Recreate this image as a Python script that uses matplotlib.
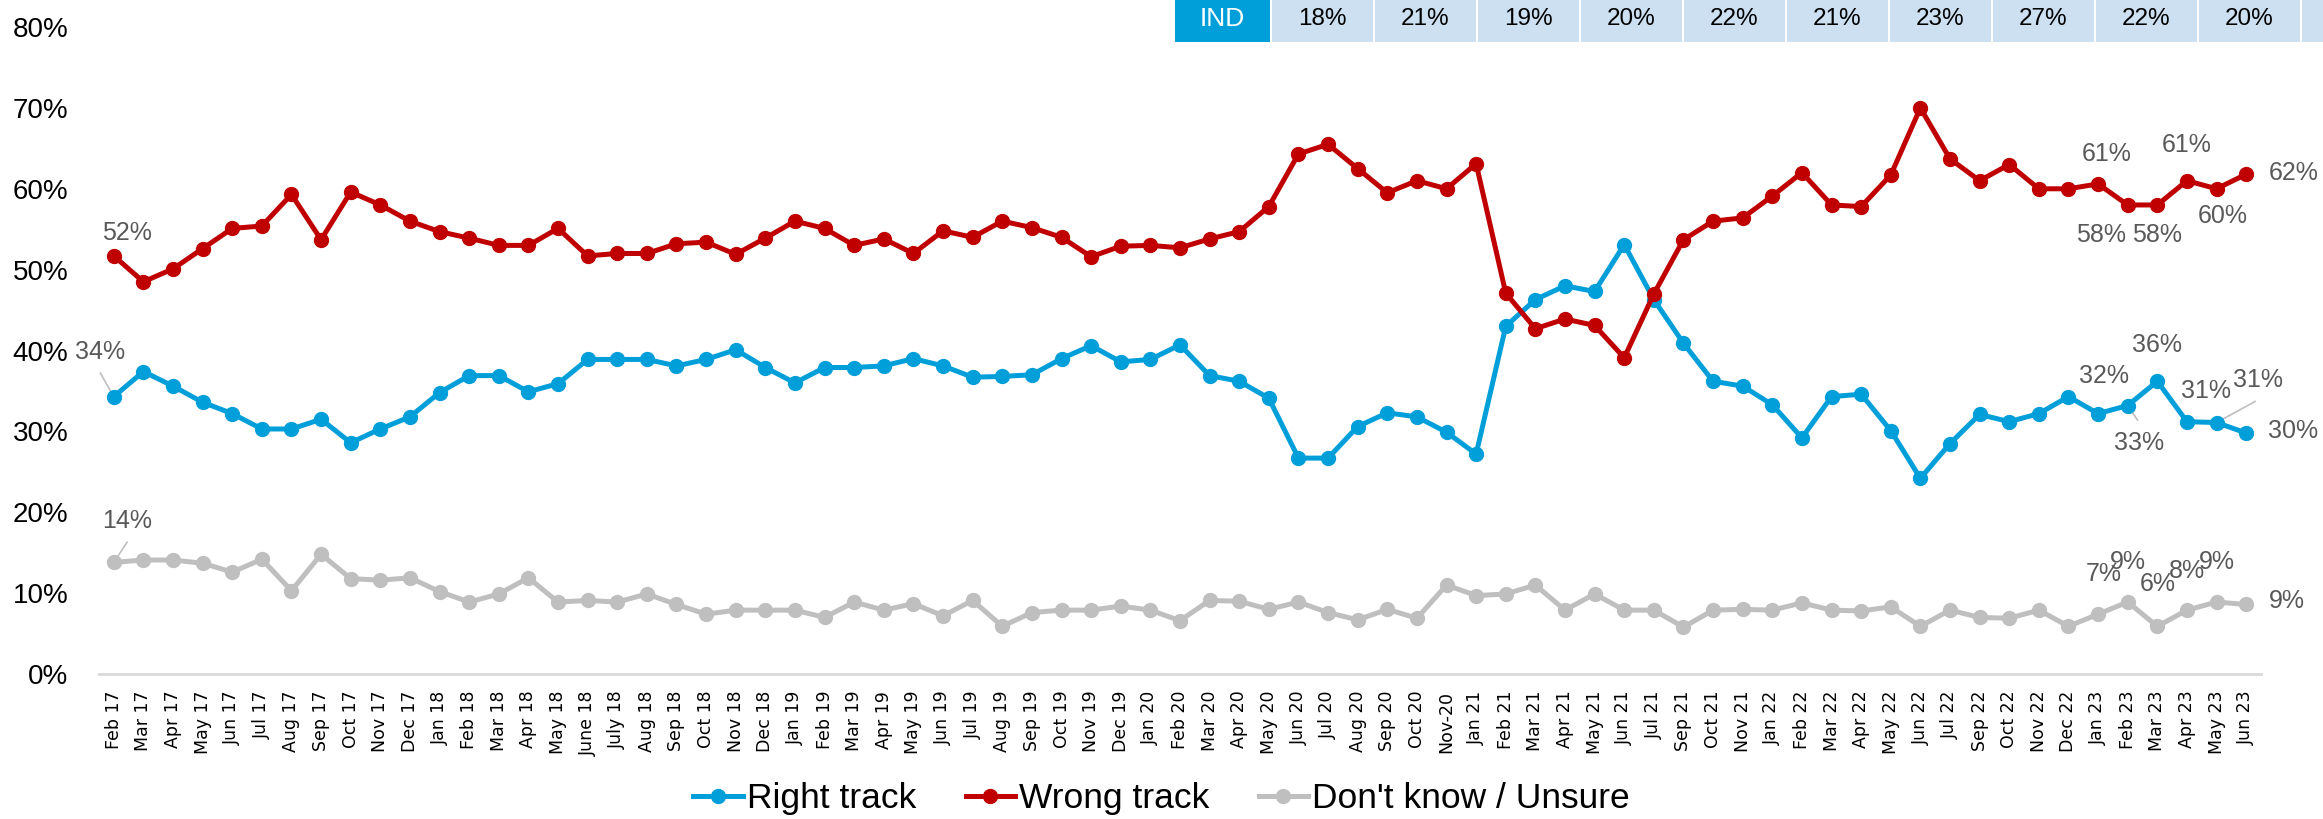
import matplotlib
matplotlib.use('Agg')
from matplotlib import pyplot as plt
from matplotlib.lines import Line2D
from matplotlib.patches import Rectangle

# plain sans for the excel-ish look, dejavu for the month labels
plt.rcParams['font.family'] = ['Liberation Sans', 'DejaVu Sans']

# data (percent)
months = ['Feb 17', 'Mar 17', 'Apr 17', 'May 17', 'Jun 17', 'Jul 17', 'Aug 17', 'Sep 17', 'Oct 17', 'Nov 17', 'Dec 17',
          'Jan 18', 'Feb 18', 'Mar 18', 'Apr 18', 'May 18', 'June 18', 'July 18', 'Aug 18', 'Sep 18', 'Oct 18', 'Nov 18', 'Dec 18',
          'Jan 19', 'Feb 19', 'Mar 19', 'Apr 19', 'May 19', 'Jun 19', 'Jul 19', 'Aug 19', 'Sep 19', 'Oct 19', 'Nov 19', 'Dec 19',
          'Jan 20', 'Feb 20', 'Mar 20', 'Apr 20', 'May 20', 'Jun 20', 'Jul 20', 'Aug 20', 'Sep 20', 'Oct 20', 'Nov-20',
          'Jan 21', 'Feb 21', 'Mar 21', 'Apr 21', 'May 21', 'Jun 21', 'Jul 21', 'Sep 21', 'Oct 21', 'Nov 21',
          'Jan 22', 'Feb 22', 'Mar 22', 'Apr 22', 'May 22', 'Jun 22', 'Jul 22', 'Sep 22', 'Oct 22', 'Nov 22', 'Dec 22',
          'Jan 23', 'Feb 23', 'Mar 23', 'Apr 23', 'May 23', 'Jun 23']

right_track = [34.3, 37.4, 35.6, 33.6, 32.2, 30.3, 30.3, 31.5, 28.6, 30.3, 31.8,
               34.8, 36.9, 36.9, 34.9, 35.9, 38.9, 38.9, 38.9, 38.1, 38.9, 40.1, 37.9,
               36.0, 37.9, 37.9, 38.1, 39.0, 38.1, 36.7, 36.8, 37.0, 39.0, 40.6, 38.6,
               38.9, 40.7, 36.9, 36.2, 34.1, 26.7, 26.7, 30.6, 32.3, 31.8, 29.9,
               27.2, 43.0, 46.3, 48.0, 47.3, 53.1, 46.3, 40.9, 36.2, 35.6,
               33.3, 29.2, 34.3, 34.6, 30.1, 24.2, 28.5, 32.1, 31.2, 32.2, 34.3,
               32.2, 33.2, 36.2, 31.2, 31.1, 29.8]

wrong_track = [51.7, 48.5, 50.1, 52.6, 55.1, 55.4, 59.3, 53.7, 59.6, 58.0, 56.0,
               54.7, 53.9, 53.0, 53.0, 55.1, 51.7, 52.0, 52.0, 53.2, 53.4, 51.9, 53.9,
               56.0, 55.1, 53.0, 53.8, 52.0, 54.8, 54.0, 56.0, 55.2, 54.0, 51.6, 52.9,
               53.0, 52.7, 53.8, 54.7, 57.8, 64.3, 65.5, 62.5, 59.5, 61.0, 60.0,
               63.1, 47.1, 42.7, 43.9, 43.1, 39.1, 47.0, 53.7, 56.0, 56.4,
               59.1, 62.0, 58.0, 57.8, 61.7, 70.0, 63.7, 61.0, 63.0, 60.0, 60.0,
               60.6, 58.0, 58.0, 61.0, 60.0, 61.8]

unsure = [13.8, 14.1, 14.1, 13.7, 12.6, 14.2, 10.3, 14.8, 11.8, 11.6, 11.9,
          10.2, 8.9, 9.9, 11.9, 8.9, 9.1, 8.9, 9.9, 8.6, 7.4, 7.9, 7.9,
          7.9, 7.0, 8.9, 7.9, 8.7, 7.2, 9.1, 5.9, 7.6, 7.9, 7.9, 8.4,
          7.9, 6.6, 9.1, 9.0, 8.0, 8.9, 7.6, 6.7, 8.0, 6.9, 11.0,
          9.7, 9.9, 11.0, 7.9, 9.9, 7.9, 7.9, 5.8, 7.9, 8.0,
          7.9, 8.8, 7.9, 7.8, 8.3, 5.9, 7.9, 7.0, 6.9, 7.9, 5.9,
          7.4, 8.9, 5.9, 7.9, 8.9, 8.6]

series_names = ['Right track', 'Wrong track', "Don't know / Unsure"]

# the IND strip above the chart
ind_label = 'IND'
ind_values = ['18%', '21%', '19%', '20%', '22%', '21%', '23%', '27%', '22%', '20%']

BLUE = '#009FDA'
RED = '#C00000'
GREY = '#BFBFBF'
LABEL_COL = '#595959'

fig = plt.figure(figsize=(23.23, 8.19), dpi=100)
ax = fig.add_axes([0.0426, 0.177, 0.9307, 0.790])
ax.patch.set_visible(False)  # so the IND strip behind isn't covered

x = list(range(len(months)))
frac = lambda vals: [v / 100 for v in vals]

for vals, col in zip([right_track, wrong_track, unsure], [BLUE, RED, GREY]):
    ax.plot(x, frac(vals), color=col, lw=3.6, marker='o', ms=10, solid_capstyle='round')

ax.set_xlim(-0.5, len(months) - 0.5)
ax.set_ylim(0, 0.8)
ax.set_yticks([i / 10 for i in range(9)])
ax.set_yticklabels(['%d%%' % (i * 10) for i in range(9)], fontsize=20)
ax.set_xticks(x)
ax.set_xticklabels(months, rotation=90, fontsize=12.5, family='DejaVu Sans')
ax.tick_params(axis='both', length=0)
ax.tick_params(axis='y', pad=22)
ax.tick_params(axis='x', pad=12)
for s in ['top', 'right', 'left']:
    ax.spines[s].set_visible(False)
ax.spines['bottom'].set_color('#D9D9D9')
ax.spines['bottom'].set_linewidth(2)

# data labels: (series values, index, text x, text y, alignment, leader line?)
labels = [
    (wrong_track, 0, 0.45, 54.5, 'center', False),
    (wrong_track, 67, 67.3, 64.3, 'center', False),
    (wrong_track, 68, 67.1, 54.3, 'center', False),
    (wrong_track, 69, 69.0, 54.3, 'center', False),
    (wrong_track, 70, 70.0, 65.4, 'center', False),
    (wrong_track, 71, 71.2, 56.6, 'center', False),
    (wrong_track, 72, 72.75, 61.9, 'left', False),
    (right_track, 0, -0.45, 39.8, 'center', True),
    (right_track, 67, 67.2, 36.8, 'center', False),
    (right_track, 68, 68.4, 28.6, 'center', True),
    (right_track, 69, 69.0, 40.7, 'center', False),
    (right_track, 70, 70.65, 35.0, 'center', False),
    (right_track, 71, 72.4, 36.3, 'center', True),
    (right_track, 72, 72.75, 30.0, 'left', False),
    (unsure, 0, 0.45, 18.9, 'center', True),
    (unsure, 67, 67.2, 12.4, 'center', False),
    (unsure, 68, 68.0, 13.8, 'center', False),
    (unsure, 69, 69.0, 11.1, 'center', False),
    (unsure, 70, 70.0, 12.7, 'center', False),
    (unsure, 71, 71.0, 13.9, 'center', False),
    (unsure, 72, 72.75, 9.0, 'left', False),
]

# leader line end points near the labels
leaders = {
    (id(right_track), 0): (-0.45, 37.2),
    (id(right_track), 68): (68.33, 31.4),
    (id(right_track), 71): (72.3, 33.7),
    (id(unsure), 0): (0.45, 16.3),
}

for vals, i, tx, ty, ha, lead in labels:
    ax.text(tx, ty / 100, '%d%%' % round(vals[i]), ha=ha, va='center',
            fontsize=18, color=LABEL_COL, zorder=5)
    if lead:
        lx, ly = leaders[(id(vals), i)]
        ax.plot([i, lx], [vals[i] / 100, ly / 100], color=GREY, lw=1.2, zorder=1)

# legend
handles = [Line2D([], [], color=c, lw=3.6, marker='o', ms=10) for c in [BLUE, RED, GREY]]
fig.legend(handles, series_names, loc='center', bbox_to_anchor=(0.5, 0.025), ncol=3,
           frameon=False, fontsize=25.5, handlelength=1.4, handletextpad=0.1, columnspacing=1.4)

# IND strip, drawn in pixel coords on an overlay
top = fig.add_axes([0, 0, 1, 1], zorder=-1)
top.set_xlim(0, 2323)
top.set_ylim(819, 0)
top.axis('off')
top.add_patch(Rectangle((1175, 0), 95, 42, color=BLUE, lw=0))
top.text(1222, 19, ind_label, ha='center', va='center', color='white', fontsize=19)
for k, v in enumerate(ind_values):
    x0 = 1272 + k * 103
    top.add_patch(Rectangle((x0, 0), 101, 42, color='#CCE0F1', lw=0))
    top.text(x0 + 50, 19, v, ha='center', va='center', color='black', fontsize=17.5)
top.add_patch(Rectangle((1272 + len(ind_values) * 103, 0), 101, 42, color='#CCE0F1', lw=0))

fig.savefig('out.png', dpi=100)
